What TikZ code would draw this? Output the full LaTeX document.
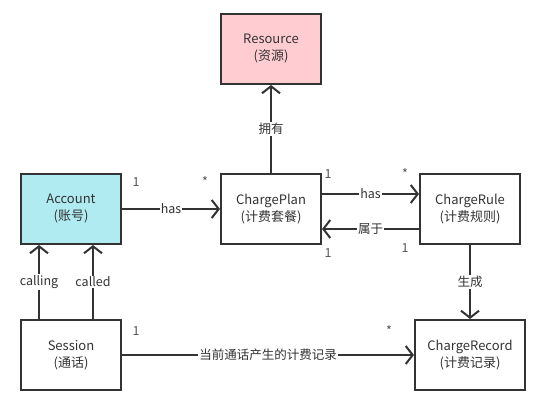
\documentclass[tikz,border=0pt]{standalone}
\usepackage{fontspec}
\setmainfont{Noto Sans CJK SC}
\usetikzlibrary{arrows.meta}
\definecolor{ln}{HTML}{333333}
\definecolor{txt}{HTML}{333333}
\definecolor{mult}{HTML}{555555}
\definecolor{cyanfill}{HTML}{B0EBF2}
\definecolor{pinkfill}{HTML}{FFCCD2}
\begin{document}
\begin{tikzpicture}[x=1pt,y=-1pt,
  box/.style={draw=ln,line width=2pt,minimum width=100pt,minimum height=70pt,inner sep=0pt,align=center,text=txt,font=\fontsize{13}{17}\selectfont},
  conn/.style={draw=ln,line width=2pt,-{Straight Barb[length=7pt,width=18pt,line width=2pt]}},
  lbl/.style={fill=white,inner sep=1pt,text=txt,font=\fontsize{12.5}{14}\selectfont},
  mul/.style={text=mult,inner sep=0pt,font=\fontsize{12.5}{14}\selectfont}]
\useasboundingbox (0,0) rectangle (548,406);
\node[box,fill=pinkfill] (res) at (271,49) {Resource\\(资源)};
\node[box,fill=cyanfill] (acc) at (71,209) {Account\\(账号)};
\node[box] (plan) at (271,209) {ChargePlan\\(计费套餐)};
\node[box] (rule) at (470,209) {ChargeRule\\(计费规则)};
\node[box] (ses) at (71,355) {Session\\(通话)};
\node[box,minimum width=110pt] (rec) at (470,355) {ChargeRecord\\(计费记录)};
% edges
\draw[conn] (acc.east) -- node[lbl] {has} (plan.west);
\draw[conn] (plan.north) -- node[lbl] {拥有} (res.south);
\draw[conn] (plan.east |- 0,194) -- node[lbl] {has} (rule.west |- 0,194);
\draw[conn] (rule.west |- 0,229) -- node[lbl] {属于} (plan.east |- 0,229);
\draw[conn] (rule.south) -- node[lbl] {生成} (rec.north);
\draw[conn] (ses.east) -- node[lbl] {当前通话产生的计费记录} (rec.west);
\draw[conn] (ses.north -| 39,0) -- node[lbl] {calling} (acc.south -| 39,0);
\draw[conn] (ses.north -| 93,0) -- node[lbl] {called} (acc.south -| 93,0);
% multiplicities
\node[mul] (m1) at (136,182) {1};
\node[mul] (m2) at (205,182) {*};
\node[mul] (m3) at (328,174) {1};
\node[mul] (m4) at (405,174) {*};
\node[mul] (m5) at (328,253) {1};
\node[mul] (m6) at (405,248) {1};
\node[mul] (m7) at (136,331) {1};
\node[mul] (m8) at (389,331) {*};
\end{tikzpicture}
\end{document}
